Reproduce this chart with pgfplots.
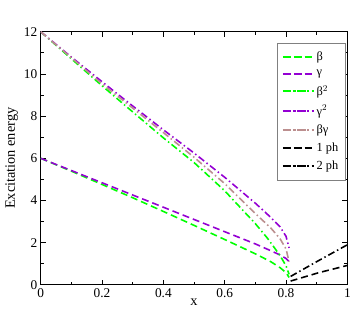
\documentclass[border=0pt]{standalone}
\usepackage{pgfplots}
\pgfplotsset{compat=1.18}
\usepackage{fontspec}
\setmainfont{Liberation Serif}
\definecolor{cgreen}{RGB}{0,255,0}
\definecolor{cpurple}{RGB}{148,0,211}
\definecolor{cbrown}{RGB}{188,143,143}
\begin{document}
\begin{tikzpicture}
\begin{axis}[
  name=ax,
  scale only axis,
  width=309bp, height=255bp,
  xmin=0, xmax=1, ymin=0, ymax=12,
  xtick={0,0.2,0.4,0.6,0.8,1},
  xticklabels={0,0.2,0.4,0.6,0.8,1},
  ytick={0,2,4,6,8,10,12},
  minor x tick num=1, minor y tick num=1,
  tick align=inside,
  major tick length=5bp, minor tick length=3bp,
  tick style={black, line width=0.8pt},
  axis line style={line width=0.9pt},
  ticklabel style={font=\fontsize{13.5}{14}\selectfont},
  /pgf/number format/assume math mode=true,
  xlabel={x}, ylabel={Excitation energy},
  label style={font=\fontsize{14.5}{15}\selectfont},
  xlabel style={yshift=5bp},
  ylabel style={yshift=-1bp},
  legend style={at={(0.994,0.957)}, anchor=north east, draw=gray, line width=0.8pt,
    font=\fontsize{12.5}{13}\selectfont, row sep=4.2pt, inner xsep=5pt, inner ysep=7pt},
  legend cell align=left,
  legend image code/.code={\draw[#1, line width=1.9bp] (0.05cm,0cm) -- (0.83cm,0cm); \path (0cm,0cm) -- (1.1cm,0cm);},
]
\addplot[cgreen, line width=1.6bp, dash pattern=on 7bp off 4bp] coordinates {(0,6) (0.1,5.39) (0.2,4.76) (0.3,4.13) (0.4,3.48) (0.5,2.82) (0.6,2.15) (0.7,1.47) (0.75,1.1) (0.78,0.82) (0.80,0.58) (0.81,0.35)};
\addlegendentry{β}
\addplot[cpurple, line width=1.6bp, dash pattern=on 7bp off 4bp] coordinates {(0,6) (0.1,5.42) (0.2,4.84) (0.3,4.26) (0.4,3.68) (0.5,3.1) (0.6,2.52) (0.7,1.94) (0.75,1.62) (0.78,1.42) (0.80,1.25) (0.81,1.1)};
\addlegendentry{γ}
\addplot[cgreen, line width=1.6bp, dash pattern=on 7bp off 3bp on 1.5bp off 3bp] coordinates {(0,12) (0.1,10.72) (0.2,9.44) (0.3,8.2) (0.4,6.97) (0.5,5.8) (0.6,4.46) (0.7,2.9) (0.74,2.2) (0.78,1.4) (0.80,0.9) (0.81,0.5)};
\addlegendentry{β$^2$}
\addplot[cpurple, line width=1.6bp, dash pattern=on 7bp off 3bp on 1.5bp off 3bp] coordinates {(0,12) (0.1,10.8) (0.2,9.63) (0.3,8.48) (0.4,7.35) (0.5,6.25) (0.6,5.1) (0.7,3.87) (0.75,3.2) (0.78,2.76) (0.80,2.3) (0.81,1.75)};
\addlegendentry{γ$^2$}
\addplot[cbrown, line width=1.6bp, dash pattern=on 7bp off 3bp on 1.5bp off 3bp] coordinates {(0,12) (0.1,10.77) (0.2,9.53) (0.3,8.38) (0.4,7.22) (0.5,6.05) (0.6,4.8) (0.7,3.38) (0.75,2.7) (0.78,2.2) (0.80,1.7) (0.81,1.1)};
\addlegendentry{βγ}
\addplot[black, line width=1.6bp, dash pattern=on 7bp off 4bp] coordinates {(0.815,0.18) (0.905,0.57) (1,0.92)};
\addlegendentry{1 ph}
\addplot[black, line width=1.6bp, dash pattern=on 7bp off 3bp on 1.5bp off 3bp] coordinates {(0.815,0.4) (0.905,1.14) (1,1.9)};
\addlegendentry{2 ph}
\end{axis}
\path ([xshift=-41bp,yshift=-32bp]ax.south west) rectangle ([xshift=4bp,yshift=32bp]ax.north east);
\end{tikzpicture}
\end{document}
